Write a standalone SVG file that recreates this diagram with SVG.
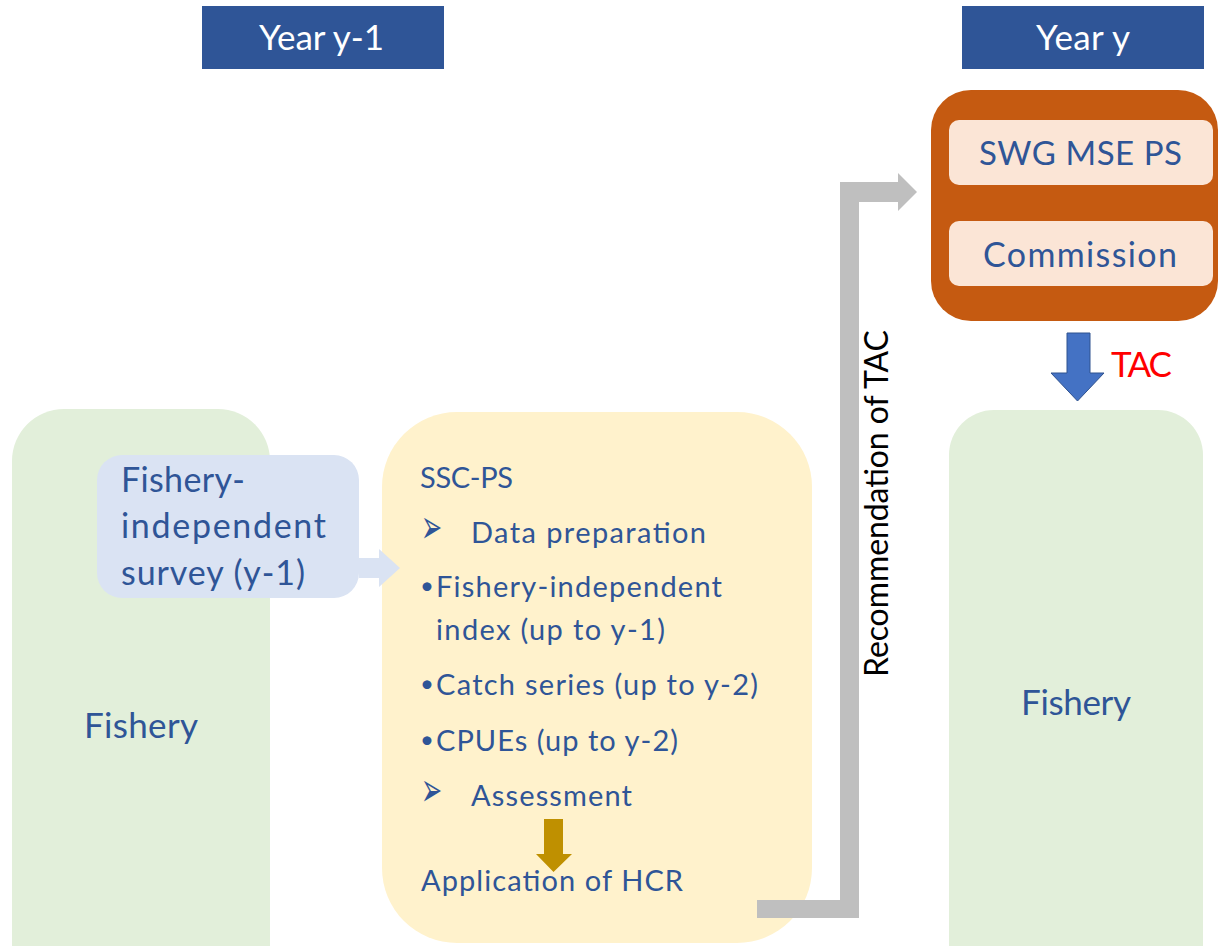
<svg xmlns="http://www.w3.org/2000/svg" width="1218" height="946" viewBox="0 0 1218 946">
  <style>
    .hdr { fill: #2F5597; }
    .hdr-t { fill: #FFFFFF; font-family: Lato, "Liberation Sans", sans-serif; font-size: 35px; }
    .green { fill: #E2EFDA; }
    .t { fill: #2F5597; font-family: Lato, "Liberation Sans", sans-serif; }
    .big { font-size: 35px; }
    .mid { font-size: 34px; }
    .sm { font-size: 29px; }
    .dot { fill: #2F5597; font-family: Lato, "Liberation Sans", sans-serif; font-size: 24px; }
    .tag { font-family: "DejaVu Sans", sans-serif; font-size: 28px; fill: #2F5597; }
    .inner { fill: #FBE5D6; }
  </style>

  <!-- period headers -->
  <g id="year-prev">
    <rect class="hdr" x="202" y="6" width="242" height="63"/>
    <text class="hdr-t" x="259" y="50" textLength="125" lengthAdjust="spacing">Year y-1</text>
  </g>
  <g id="year-cur">
    <rect class="hdr" x="962" y="6" width="242" height="63"/>
    <text class="hdr-t" x="1036" y="50" textLength="94" lengthAdjust="spacing">Year y</text>
  </g>

  <!-- fishery, previous year -->
  <g id="fishery-prev">
    <rect class="green" x="12" y="409" width="258" height="600" rx="52"/>
    <text class="t big" x="84" y="738" textLength="114" lengthAdjust="spacing">Fishery</text>
  </g>

  <!-- fishery, current year -->
  <g id="fishery-cur">
    <rect class="green" x="949" y="410" width="254" height="600" rx="45"/>
    <text class="t big" x="1021" y="715" textLength="110" lengthAdjust="spacing">Fishery</text>
  </g>

  <!-- scientific committee work -->
  <g id="ssc-ps">
    <rect x="382" y="412" width="430" height="531" rx="75" fill="#FFF2CC"/>
    <text class="t sm" x="420" y="488" textLength="93" lengthAdjust="spacing">SSC-PS</text>
    <text class="tag" transform="translate(421,543) scale(0.9,1.7)">➢</text>
    <text class="t sm" x="471" y="543" textLength="235" lengthAdjust="spacing">Data preparation</text>
    <text class="dot" x="420" y="594">•</text>
    <text class="t sm" x="436" y="597" textLength="286" lengthAdjust="spacing">Fishery-independent</text>
    <text class="t sm" x="436" y="640" textLength="229" lengthAdjust="spacing">index (up to y-1)</text>
    <text class="dot" x="420" y="692">•</text>
    <text class="t sm" x="436" y="695" textLength="322" lengthAdjust="spacing">Catch series (up to y-2)</text>
    <text class="dot" x="420" y="748">•</text>
    <text class="t sm" x="436" y="751" textLength="242" lengthAdjust="spacing">CPUEs (up to y-2)</text>
    <text class="tag" transform="translate(421,806) scale(0.9,1.7)">➢</text>
    <text class="t sm" x="471" y="806" textLength="161" lengthAdjust="spacing">Assessment</text>
    <text class="t sm" x="421" y="891" textLength="262" lengthAdjust="spacing">Application of HCR</text>
    <polygon points="544,819 563,819 563,854 572,854 553.5,872 536,854 544,854" fill="#BF9000"/>
  </g>

  <!-- survey input -->
  <g id="survey">
    <rect x="97" y="455" width="262" height="143" rx="25" fill="#DAE3F3"/>
    <text class="t mid" x="121" y="492" textLength="124" lengthAdjust="spacing">Fishery-</text>
    <text class="t mid" x="121" y="538" textLength="205" lengthAdjust="spacing">independent</text>
    <text class="t mid" x="121" y="585" textLength="184" lengthAdjust="spacing">survey (y-1)</text>
  </g>

  <!-- decision bodies -->
  <g id="decision">
    <rect x="931" y="90" width="287" height="231" rx="40" fill="#C55A11"/>
    <rect class="inner" x="949" y="120" width="264" height="65" rx="10"/>
    <text class="t" font-size="33" x="979" y="165" textLength="203" lengthAdjust="spacing">SWG MSE PS</text>
    <rect class="inner" x="949" y="221" width="264" height="65" rx="10"/>
    <text class="t" font-size="34" x="983" y="267" textLength="194" lengthAdjust="spacing">Commission</text>
  </g>

  <!-- connectors -->
  <g id="connectors">
    <polygon points="359,558 379,558 379,549 400,568 379,587 379,578 359,578" fill="#DAE3F3"/>
    <polygon points="757,900 840,900 840,182 898,182 898,173 917,192 898,211 898,202 859,202 859,918 757,918" fill="#BFBFBF"/>
    <text transform="translate(888,677) rotate(-90)" x="0" y="0" font-family="Lato, 'Liberation Sans', sans-serif" font-size="32" fill="#000000" textLength="347" lengthAdjust="spacing">Recommendation of TAC</text>
    <polygon points="1067,333 1090,333 1090,373 1104,373 1077.5,401 1051,373 1067,373" fill="#4472C4" stroke="#2F528F" stroke-width="1"/>
    <text x="1111" y="377" font-family="Lato, 'Liberation Sans', sans-serif" font-size="35" fill="#FF0000" textLength="61" lengthAdjust="spacing">TAC</text>
  </g>
</svg>
